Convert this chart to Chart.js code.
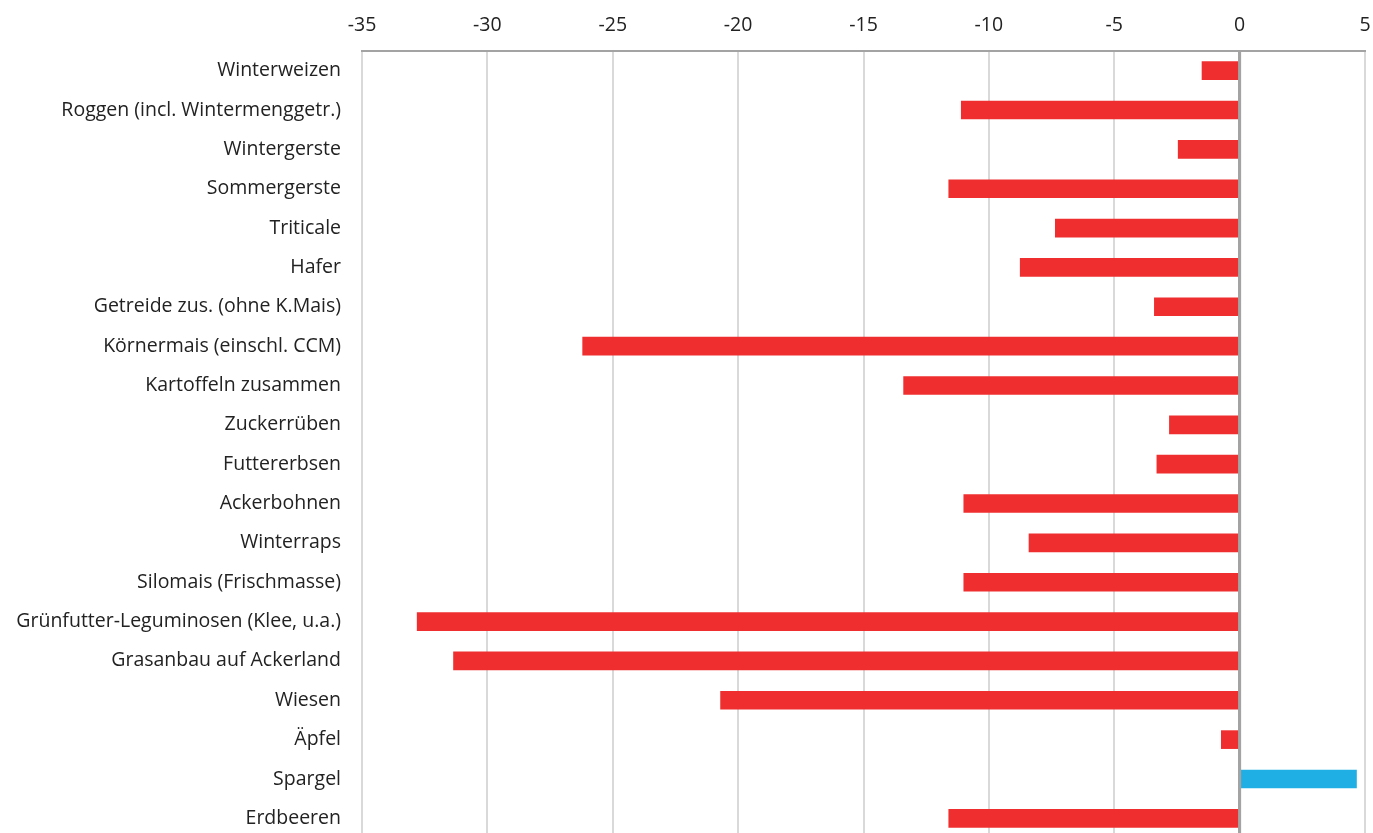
<!DOCTYPE html>
<html>
<head>
<meta charset="utf-8">
<script src="https://cdn.jsdelivr.net/npm/chart.js@4.4.1/dist/chart.umd.min.js"></script>
<style>
  html, body { margin: 0; padding: 0; background: #fff; overflow: hidden; }
  canvas { display: block; }
</style>
</head>
<body>
<canvas id="chart" width="1373" height="838"></canvas>
<script>
const crops = [
    'Winterweizen',
    'Roggen (incl. Wintermenggetr.)',
    'Wintergerste',
    'Sommergerste',
    'Triticale',
    'Hafer',
    'Getreide zus. (ohne K.Mais)',
    'Körnermais (einschl. CCM)',
    'Kartoffeln zusammen',
    'Zuckerrüben',
    'Futtererbsen',
    'Ackerbohnen',
    'Winterraps',
    'Silomais (Frischmasse)',
    'Grünfutter-Leguminosen (Klee, u.a.)',
    'Grasanbau auf Ackerland',
    'Wiesen',
    'Äpfel',
    'Spargel',
    'Erdbeeren'
];
const changes = [-1.5, -11.1, -2.45, -11.6, -7.35, -8.75, -3.4, -26.2, -13.4, -2.8,
    -3.3, -11.0, -8.4, -11.0, -32.8, -31.35, -20.7, -0.73, 4.66, -11.6];
const xMin = -35;
const xMax = 5;
const xStep = 5;

const red = '#EF2F2F';
const blue = '#1FAFE5';
const fontFamily = '"Open Sans", "Noto Sans", sans-serif';

// zero line sits on top of the bars
const zeroLine = {
    id: 'zeroLine',
    afterDatasetsDraw(chart) {
        const ctx = chart.ctx;
        const x = chart.scales.x.getPixelForValue(0);
        ctx.save();
        ctx.strokeStyle = '#A3A3A3';
        ctx.lineWidth = 3;
        ctx.beginPath();
        ctx.moveTo(x, chart.chartArea.top);
        ctx.lineTo(x, chart.chartArea.bottom);
        ctx.stroke();
        ctx.restore();
    }
};

const ctx = document.getElementById('chart').getContext('2d');
new Chart(ctx, {
    type: 'bar',
    data: {
        labels: crops,
        datasets: [{
            data: changes,
            backgroundColor: c => (c.raw >= 0 ? blue : red),
            barThickness: 18,
            borderWidth: 0
        }]
    },
    options: {
        indexAxis: 'y',
        responsive: false,
        animation: false,
        layout: { padding: { top: 0, right: 8, bottom: 0, left: 0 } },
        plugins: {
            legend: { display: false },
            tooltip: { enabled: false }
        },
        scales: {
            x: {
                position: 'top',
                min: xMin,
                max: xMax,
                ticks: {
                    stepSize: xStep,
                    padding: 14,
                    color: '#222',
                    font: { family: fontFamily, size: 19.5 }
                },
                grid: {
                    drawTicks: false,
                    color: c => (c.tick && c.tick.value === 0 ? '#A3A3A3' : '#D9D9D9'),
                    lineWidth: c => (c.tick && c.tick.value === 0 ? 3 : 2)
                },
                border: { display: true, color: '#A3A3A3', width: 2 },
                afterFit(scale) {
                    scale.height = 51;
                    scale.paddingLeft = 0;
                    scale.paddingRight = 0;
                }
            },
            y: {
                ticks: {
                    padding: 21,
                    color: '#222',
                    font: { family: fontFamily, size: 19.5 }
                },
                grid: { display: false, drawTicks: false },
                border: { display: false },
                afterFit(scale) {
                    scale.width = 362;
                    scale.paddingTop = 0;
                    scale.paddingBottom = 0;
                }
            }
        }
    },
    plugins: [zeroLine]
});
</script>
</body>
</html>
